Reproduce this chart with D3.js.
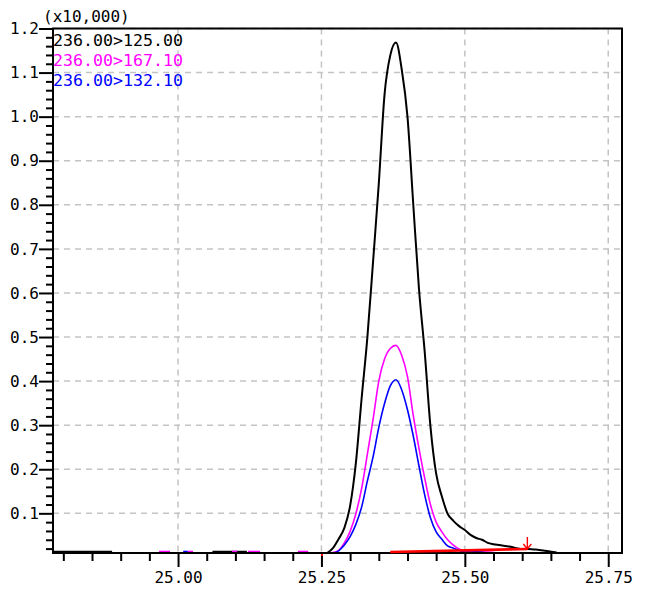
<!DOCTYPE html>
<html><head><meta charset="utf-8">
<script src="https://cdn.jsdelivr.net/npm/d3@7"></script>
<style>
html,body{margin:0;padding:0;background:#fff;}
svg{display:block;}
text{font-family:"DejaVu Sans Mono","Liberation Mono",monospace;}
</style></head>
<body>
<svg id="c" width="647" height="593"></svg>
<script>
// ---- data ----
const times = [25.26,25.27,25.28,25.29,25.30,25.31,25.32,25.33,25.34,25.35,25.36,25.37,25.38,25.39,25.40,25.41,25.42,25.43,25.44,25.45,25.46,25.47,25.48,25.49,25.50,25.51,25.52,25.53,25.54,25.55,25.56,25.57,25.58,25.59,25.60,25.61,25.62,25.63,25.64,25.65,25.66];
const black   = [0.010,0.021,0.042,0.067,0.117,0.214,0.360,0.498,0.671,0.848,1.050,1.139,1.168,1.107,1.000,0.803,0.610,0.467,0.298,0.190,0.138,0.099,0.083,0.071,0.062,0.051,0.044,0.040,0.033,0.030,0.028,0.026,0.024,0.021,0.019,0.019,0.018,0.017,0.015,0.013,0.011];
const magenta = [0.010,0.011,0.016,0.033,0.059,0.099,0.156,0.234,0.313,0.400,0.450,0.474,0.481,0.458,0.410,0.323,0.248,0.180,0.120,0.080,0.058,0.040,0.028,0.019,0.015,0.012,0.012,0.012,0.012,0.011,0.010,0.010,0.010,0.010,0.010,0.010,0.010,0.010,0.010,0.010,0.010];
const blue    = [0.010,0.010,0.015,0.028,0.047,0.075,0.114,0.173,0.228,0.295,0.349,0.389,0.403,0.380,0.335,0.276,0.208,0.142,0.090,0.058,0.041,0.026,0.021,0.016,0.012,0.012,0.013,0.012,0.010,0.010,0.010,0.010,0.010,0.010,0.010,0.010,0.010,0.010,0.010,0.010,0.010];
const seriesNames = ["236.00>125.00","236.00>167.10","236.00>132.10"];
const seriesColors = ["#000000","#ff00ff","#0000ff"];
// baseline noise segments (time ranges where trace lifts just above the axis)
const blackBaseSegs = [[24.782,24.885],[25.06,25.12]];
const magentaBaseSegs = [[24.967,24.986],[25.017,25.026],[25.094,25.103],[25.122,25.143],[25.209,25.227]];
const blueBaseSegs = [[25.009,25.017]];
const baseLevel = 0.0125;
// integration baseline (red)
const redBaseline = [[25.370,0.0123],[25.609,0.0191]];
const peakStartMark = 25.251;
// axes
const xMajor = [25.00,25.25,25.50,25.75];
const xMinor = [24.80,24.85,24.90,24.95,25.05,25.10,25.15,25.20,25.30,25.35,25.40,25.45,25.55,25.60,25.65,25.70];
const yMajor = [0.1,0.2,0.3,0.4,0.5,0.6,0.7,0.8,0.9,1.0,1.1,1.2];
const yMinor = d3.range(1,60).map(i=>+(i*0.02).toFixed(2)).filter(v=>Math.abs(v*10-Math.round(v*10))>1e-6);
const yUnitLabel = "(x10,000)";

// ---- drawing ----
const svg = d3.select("#c");
const L=53, R=622, T=28.5, B=553;
const x = d3.scaleLinear().domain([24.782,25.774]).range([L,R]);
const y = d3.scaleLinear().domain([0.01,1.2]).range([B,T]);

// grid
const grid = svg.append("g").attr("stroke","#c4c4c4").attr("stroke-width",1.5).attr("stroke-dasharray","6,5");
yMajor.forEach(v=>grid.append("line").attr("x1",L).attr("x2",R).attr("y1",y(v)).attr("y2",y(v)));
xMajor.forEach(v=>grid.append("line").attr("x1",x(v)).attr("x2",x(v)).attr("y1",T).attr("y2",B));

// traces
const line = d3.line().x(d=>x(d[0])).y(d=>y(d[1]));
const smooth = d3.line().x(d=>x(d[0])).y(d=>y(d[1])).curve(d3.curveMonotoneX);
const sets = [black,magenta,blue];
const widths = [2,1.6,1.6];
const baseSegs = [blackBaseSegs,magentaBaseSegs,blueBaseSegs];
sets.forEach((vals,i)=>{
  svg.append("path").datum(times.map((t,j)=>[t,vals[j]]))
    .attr("d",smooth).attr("fill","none").attr("stroke",seriesColors[i]).attr("stroke-width",widths[i]);
  baseSegs[i].forEach(s=>{
    svg.append("line").attr("x1",x(s[0])).attr("x2",x(s[1])).attr("y1",y(baseLevel)).attr("y2",y(baseLevel))
      .attr("stroke",seriesColors[i]).attr("stroke-width",2.4);
  });
});

// axes
const ax = svg.append("g");
const yAxis = d3.axisLeft(y).tickValues(yMajor).tickSize(14).tickPadding(0).tickFormat(d3.format(".1f"));
const yAxisMinor = d3.axisLeft(y).tickValues(yMinor).tickSize(7).tickFormat("");
const xAxis = d3.axisBottom(x).tickValues(xMajor).tickSize(14).tickPadding(5).tickFormat(d3.format(".2f"));
const xAxisMinor = d3.axisBottom(x).tickValues(xMinor).tickSize(8).tickFormat("");
const gy = ax.append("g").attr("transform",`translate(${L},0)`).call(yAxis);
const gym = ax.append("g").attr("transform",`translate(${L},0)`).call(yAxisMinor);
const gx = ax.append("g").attr("transform",`translate(0,${B})`).call(xAxis);
const gxm = ax.append("g").attr("transform",`translate(0,${B})`).call(xAxisMinor);
[gy,gym,gx,gxm].forEach(g=>{
  g.select(".domain").remove();
  g.selectAll(".tick line").attr("stroke","#000").attr("stroke-width",2);
  g.selectAll("text").attr("fill","#000").attr("font-size",16).attr("font-family",'"DejaVu Sans Mono",monospace');
});
// frame
svg.append("rect").attr("x",L).attr("y",T).attr("width",R-L).attr("height",B-T)
  .attr("fill","none").attr("stroke","#000").attr("stroke-width",2);

// red baseline + markers
svg.append("path").datum(redBaseline).attr("d",line).attr("fill","none").attr("stroke","#ff0000").attr("stroke-width",2.6);
const ex = x(redBaseline[1][0]), ey = y(redBaseline[1][1]);
svg.append("path").attr("d",`M${ex},${ey-12}L${ex},${ey}M${ex-4},${ey-5}L${ex},${ey}L${ex+4},${ey-5}`)
  .attr("fill","none").attr("stroke","#ff0000").attr("stroke-width",1.4);
svg.append("line").attr("x1",x(peakStartMark)).attr("x2",x(peakStartMark)).attr("y1",B+1).attr("y2",B+3)
  .attr("stroke","#ff0000").attr("stroke-width",2);

// unit label
svg.append("text").attr("x",43).attr("y",22).attr("font-size",16).attr("fill","#000").text(yUnitLabel);
// legend
seriesNames.forEach((n,i)=>{
  svg.append("text").attr("x",53).attr("y",45.5+i*20.3).attr("font-size",16.6).attr("fill",seriesColors[i]).text(n);
});
</script>
</body></html>
